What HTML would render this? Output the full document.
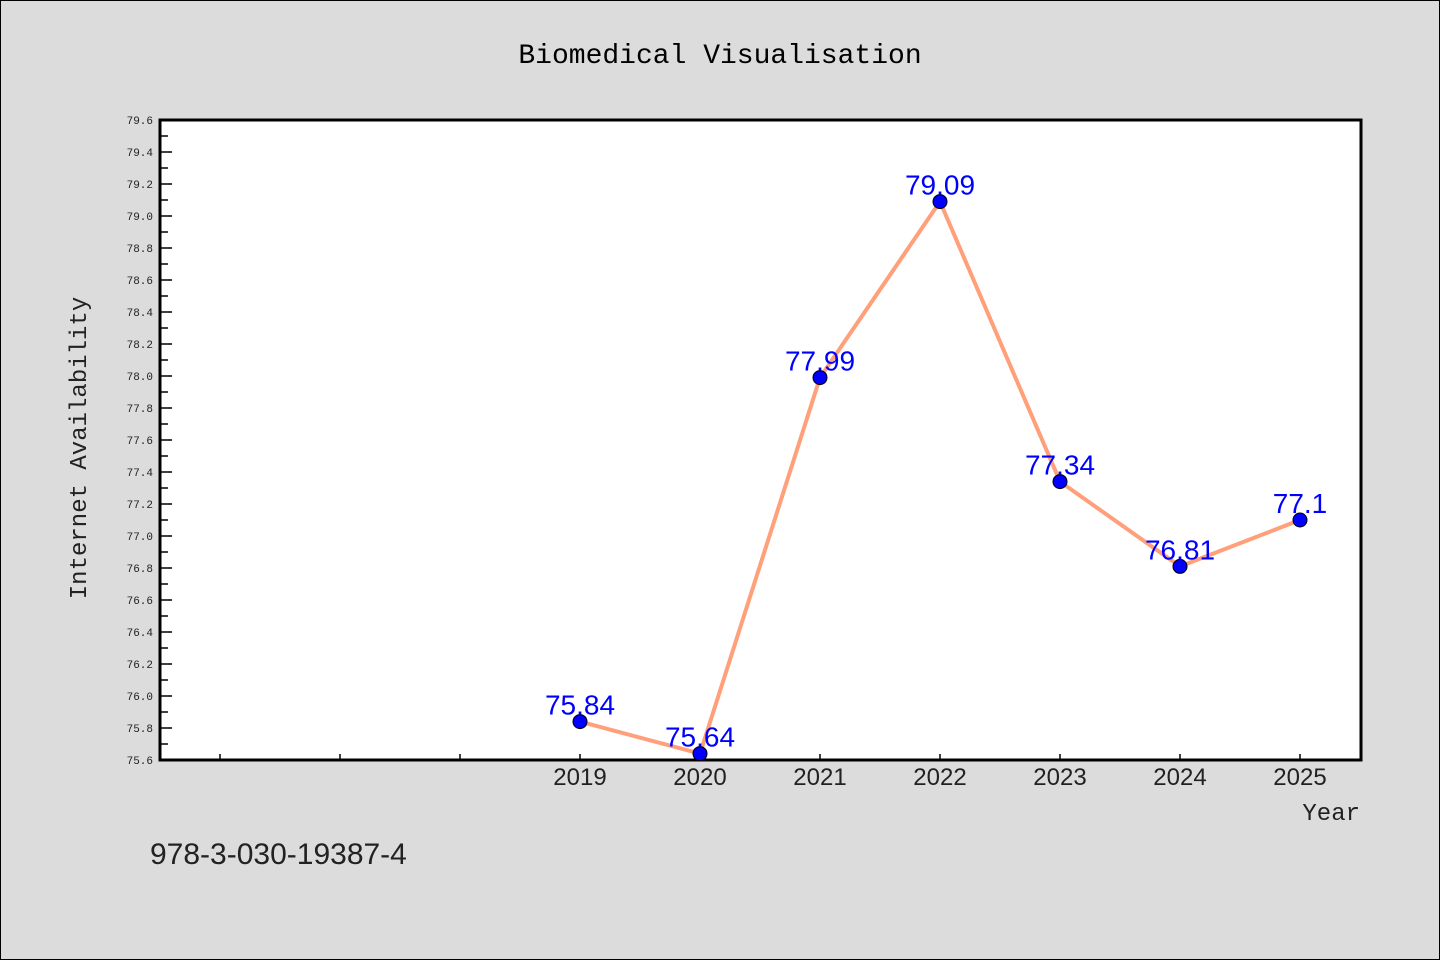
<!DOCTYPE html>
<html><head><meta charset="utf-8"><style>
body{margin:0;background:#dcdcdc;}
svg{display:block;font-family:"Liberation Mono","DejaVu Sans Mono",monospace;}
</style></head><body>
<svg id="c" width="1440" height="960">
<rect x="0.5" y="0.5" width="1439" height="959" fill="#dcdcdc" stroke="#000"/>
<text x="720" y="63" text-anchor="middle" font-size="28" fill="#000">Biomedical Visualisation</text>
<rect x="160" y="120" width="1201" height="640" fill="#fff" stroke="#000" stroke-width="3"/>
<g id="axes"></g>
<g id="series"></g>
<text x="86" y="448" text-anchor="middle" font-size="24" transform="rotate(-90 86 448)" fill="#222">Internet Availability</text>
<text x="1360" y="820" text-anchor="end" font-size="24" fill="#222">Year</text>
<text x="150" y="864" font-size="30" fill="#222" font-family="Liberation Sans,sans-serif">978-3-030-19387-4</text>
</svg>
<script>
const years=[2019,2020,2021,2022,2023,2024,2025];
const values=[75.84,75.64,77.99,79.09,77.34,76.81,77.1];
const labels=["75.84","75.64","77.99","79.09","77.34","76.81","77.1"];
const yTicks=["75.6","75.8","76.0","76.2","76.4","76.6","76.8","77.0","77.2","77.4","77.6","77.8","78.0","78.2","78.4","78.6","78.8","79.0","79.2","79.4","79.6"];
const xTickYears=[2016,2017,2018,2019,2020,2021,2022,2023,2024,2025];
const NS="http://www.w3.org/2000/svg";
const X=y=>580+(y-2019)*120;
const Y=v=>760-(v-75.6)*160;
function mk(t,a,p){const e=document.createElementNS(NS,t);for(const k in a)e.setAttribute(k,a[k]);p.appendChild(e);return e;}
const ax=document.getElementById('axes'),se=document.getElementById('series');
yTicks.forEach(s=>{const v=parseFloat(s),y=Y(v);
const t=mk('line',{x1:160,x2:172,y1:y,y2:y,stroke:'#000','stroke-width':1.5},ax);


const m=mk('line',{x1:160,x2:168,y1:y-16,y2:y-16,stroke:'#000','stroke-width':1.5},ax);
if(v>=79.6)m.remove();


const l=mk('text',{x:153,y:y+4,'text-anchor':'end','font-size':11,fill:'#222'},ax);l.textContent=s;

});
xTickYears.forEach(yr=>{const x=X(yr);
const t=mk('line',{x1:x,x2:x,y1:760,y2:754,stroke:'#000','stroke-width':1.5},ax);


if(years.includes(yr)){const l=mk('text',{x:x,y:785,'text-anchor':'middle','font-size':24,fill:'#222','font-family':'Liberation Sans,sans-serif'},ax);l.textContent=yr;

}});
const pl=mk('polyline',{points:years.map((y,i)=>X(y)+','+Y(values[i])).join(' '),fill:'none',stroke:'#ffa07a','stroke-width':4},se);


years.forEach((y,i)=>{const c=mk('circle',{cx:X(y),cy:Y(values[i]),r:7,fill:'#0000ff',stroke:'#000','stroke-width':1},se);


const l=mk('text',{x:X(y),y:Y(values[i])-7,'text-anchor':'middle','font-size':28,fill:'#0000ff','font-family':'Liberation Sans,sans-serif'},se);l.textContent=labels[i];

});
</script>
</body></html>
